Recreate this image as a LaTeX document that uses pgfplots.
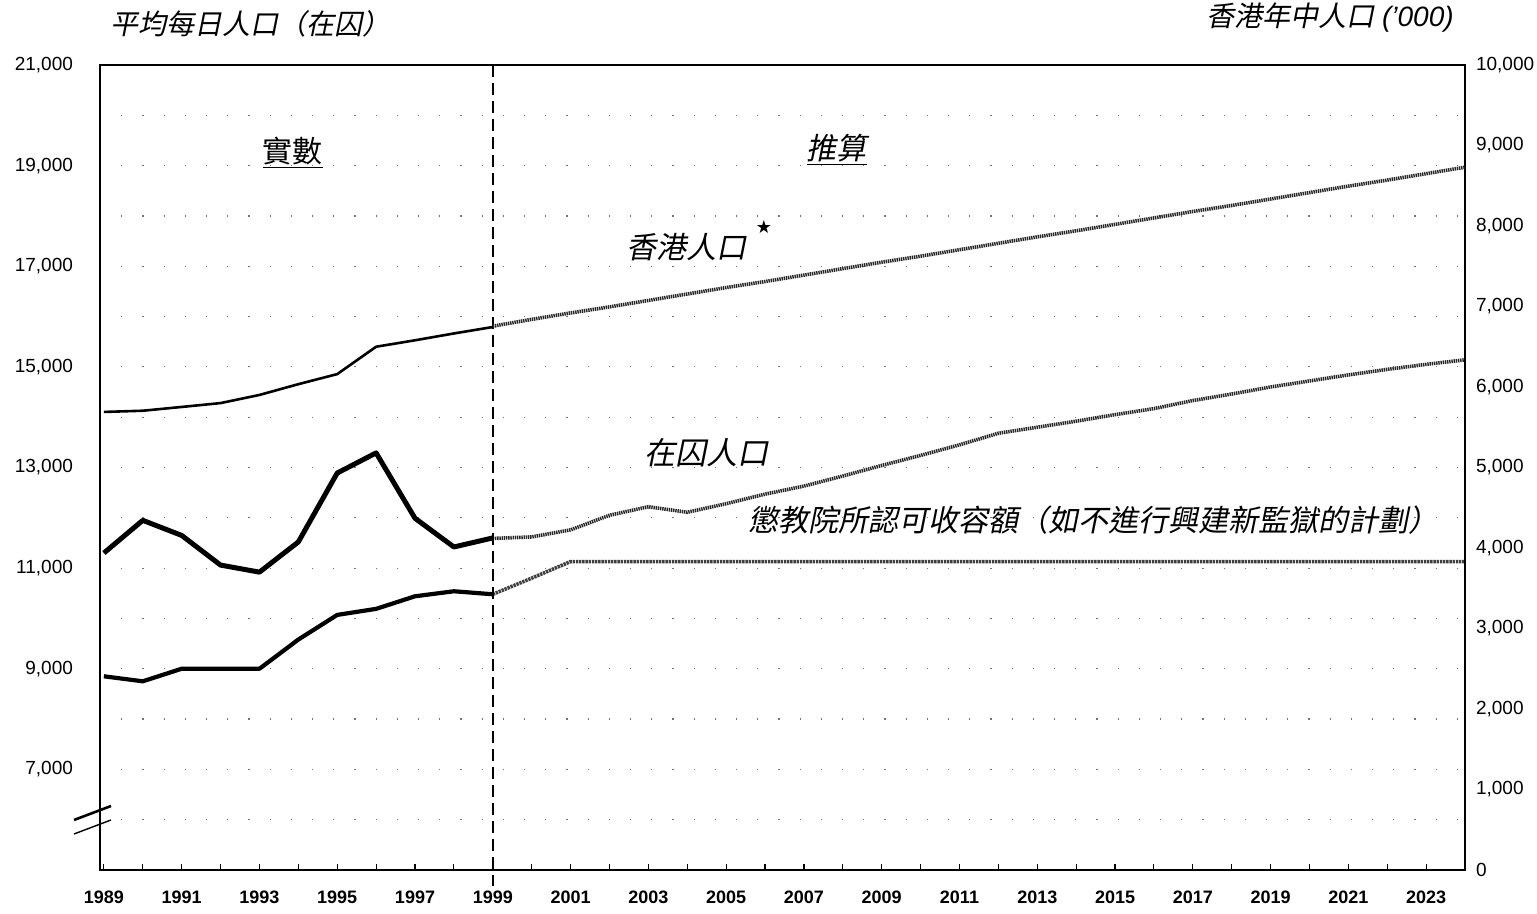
\documentclass[border=0pt]{standalone}
\usepackage{pgfplots}
\pgfplotsset{compat=1.18}
\usepackage{fontspec}
\setmainfont{Liberation Sans}
\newfontfamily\cjk{Noto Sans CJK TC}[FakeSlant=0.2]
\newfontfamily\cjkup{Noto Sans CJK TC}
\newfontfamily\sym{DejaVu Sans}
\tikzset{
  proj/.style={line width=1.8pt, black!85, dash pattern=on 0.7pt off 0.4pt},
  projc/.style={line width=1.8pt, black!75, dash pattern=on 1.2pt off 0.4pt},
}
\begin{document}
\begin{tikzpicture}
\useasboundingbox (0,0) rectangle (768.5pt,457pt);
\begin{axis}[
  at={(50pt,22pt)}, anchor=south west,
  scale only axis, width=682.5pt, height=402.5pt,
  xmin=1988.9, xmax=2024, ymin=5000, ymax=21000,
  clip=false,
  axis line style={line width=1.1pt},
  xtick={1989,1991,...,2023},
  minor xtick={1990,1992,...,2024},
  xtick pos=bottom, tick align=inside,
  major tick length=3pt, minor tick length=3pt,
  every tick/.style={black, line width=0.6pt},
  xticklabel style={font=\fontsize{9}{10}\selectfont\bfseries, yshift=-7pt},
  x tick label style={/pgf/number format/.cd, 1000 sep={}, assume math mode=true},
  ytick={7000,9000,11000,13000,15000,17000,19000,21000},
  yticklabels={{7,000},{9,000},{11,000},{13,000},{15,000},{17,000},{19,000},{21,000}},
  minor ytick={6000,8000,...,20000},
  scaled y ticks=false,
  ytick pos=left,
  ytick style={draw=none},
  minor y tick style={draw=none},
  yticklabel style={font=\fontsize{9.5}{10}\selectfont, xshift=-10pt},
  ymajorgrids, yminorgrids,
  major grid style={black!55, line width=0.6pt, dash pattern=on 0.6pt off 10pt},
  minor grid style={black!55, line width=0.6pt, dash pattern=on 0.6pt off 10pt},
]
% prisoner population, actual
\addplot[black, line width=2.5pt, line join=round] coordinates {
(1989,11300) (1990,11950) (1991,11650) (1992,11060) (1993,10920) (1994,11520)
(1995,12890) (1996,13290) (1997,11990) (1998,11420) (1999,11600)};
% prisoner population, projection
\addplot[proj] coordinates {
(1999,11590) (2000,11620) (2001,11760) (2002,12050) (2003,12220) (2004,12110)
(2005,12280) (2006,12470) (2007,12630) (2008,12830) (2009,13040) (2010,13240)
(2011,13450) (2012,13680) (2013,13800) (2014,13920) (2015,14050) (2016,14170)
(2017,14330) (2018,14460) (2019,14600) (2020,14720) (2021,14840) (2022,14950)
(2023,15050) (2024,15140)};
% certified capacity, actual
\addplot[black, line width=2.1pt, line join=round] coordinates {
(1989,8850) (1990,8750) (1991,9000) (1992,9000) (1993,9000) (1994,9580)
(1995,10070) (1996,10190) (1997,10440) (1998,10540) (1999,10480)};
% certified capacity, projection
\addplot[projc] coordinates {
(1999,10480) (2000,10800) (2001,11130) (2005,11130) (2010,11130) (2015,11130)
(2020,11130) (2024,11130)};
% divider
\draw[black, line width=1pt, dash pattern=on 6pt off 3pt] (axis cs:1999,21000) -- (axis cs:1999,4680);
% labels
\node[font=\fontsize{15}{15}\selectfont\cjkup] at (axis cs:1993.85,19250) {\underline{實數}};
\node[font=\fontsize{15}{15}\selectfont\cjk] at (axis cs:2007.85,19310) {\underline{推算}};
\node[font=\fontsize{15}{15}\selectfont\cjk] at (axis cs:2003.97,17380) {香港人口};
\node[font=\fontsize{9}{9}\selectfont\sym] at (axis cs:2005.97,17780) {★};
\node[font=\fontsize{15.5}{15.5}\selectfont\cjk] at (axis cs:2004.5,13290) {在囚人口};
\node[font=\fontsize{15}{15}\selectfont\cjk] at (axis cs:2014.44,11950) {懲教院所認可收容額（如不進行興建新監獄的計劃）};
\end{axis}
\begin{axis}[
  at={(50pt,22pt)}, anchor=south west,
  scale only axis, width=682.5pt, height=402.5pt,
  xmin=1988.9, xmax=2024, ymin=0, ymax=10000,
  hide x axis,
  axis y line*=right,
  axis line style={line width=1.1pt},
  ytick={0,1000,...,10000},
  ytick style={draw=none},
  scaled y ticks=false,
  yticklabel style={font=\fontsize{9.5}{10}\selectfont, xshift=2pt,
    /pgf/number format/.cd, 1000 sep={,}, assume math mode=true},
]
% Hong Kong population ('000), actual
\addplot[black, line width=1.3pt, line join=round] coordinates {
(1989,5690) (1990,5705) (1991,5752) (1992,5800) (1993,5901) (1994,6035)
(1995,6160) (1996,6500) (1997,6580) (1998,6665) (1999,6745)};
% Hong Kong population ('000), projection
\addplot[proj] coordinates {
(1999,6755) (2000,6840) (2001,6920) (2002,6995) (2003,7075) (2004,7155)
(2005,7235) (2006,7310) (2007,7390) (2008,7470) (2009,7550) (2010,7625)
(2011,7705) (2012,7785) (2013,7865) (2014,7940) (2015,8020) (2016,8100)
(2017,8180) (2018,8255) (2019,8335) (2020,8415) (2021,8495) (2022,8570)
(2023,8650) (2024,8730)};
\end{axis}
% axis break marks
\draw[line width=1.3pt] (37pt,47pt) -- (55.5pt,54pt);
\draw[line width=0.7pt] (37pt,40pt) -- (55.5pt,47pt);
% axis titles
\node[font=\fontsize{14}{14}\selectfont\cjk] at (125pt,445pt) {平均每日人口（在囚）};
\node[font=\fontsize{14}{14}\selectfont] at (665pt,448pt) {{\cjk 香港年中人口} \itshape ('000)};
\end{tikzpicture}
\end{document}
